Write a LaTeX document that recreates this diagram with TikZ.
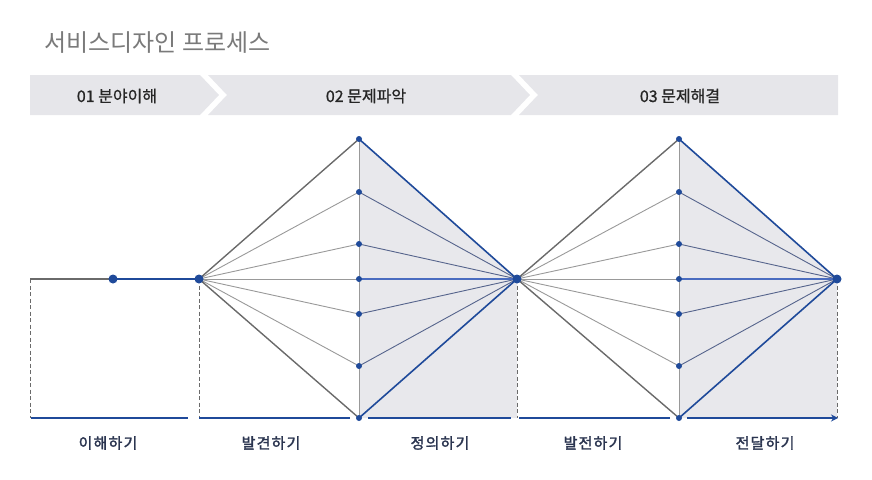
\documentclass[tikz,border=0pt]{standalone}
\usepackage{fontspec}
\setmainfont{Noto Sans CJK KR}
\newfontfamily\krb{Noto Sans CJK KR}[FakeBold=2,LetterSpace=8]
\newfontfamily\krh{Noto Sans CJK KR}[FakeBold=0.8]
\usetikzlibrary{arrows.meta}
\definecolor{pblue}{HTML}{1F4A9A}
\definecolor{lblue}{HTML}{4A6CC0}
\definecolor{fanblue}{HTML}{56648C}
\definecolor{band}{HTML}{E6E6EA}
\definecolor{shadefill}{HTML}{E8E8EC}
\definecolor{edgegray}{HTML}{6A6A6A}
\definecolor{fangray}{HTML}{999999}
\definecolor{titlegray}{HTML}{7A7A7A}
\definecolor{labelnavy}{HTML}{2B3550}
\tikzset{
  bigdot/.style={circle,fill=pblue,inner sep=0pt,minimum size=9pt},
  smalldot/.style={circle,fill=pblue,inner sep=0pt,minimum size=6pt},
  edgeline/.style={draw=edgegray,line width=1.4pt},
  blueedge/.style={draw=pblue,line width=1.6pt},
  fanleft/.style={draw=fangray,line width=0.9pt},
  fanright/.style={draw=fanblue,line width=0.9pt},
  midline/.style={draw=lblue,line width=1.2pt},
  vline/.style={draw=fangray,line width=1pt},
  dashv/.style={draw=edgegray,line width=0.8pt,dash pattern=on 4pt off 2.5pt},
  bar/.style={draw=pblue,line width=2.2pt},
  bandshape/.style={fill=band,draw=none},
  headtxt/.style={font=\krh\fontsize{16}{18}\selectfont,text=black!85,inner sep=0pt},
  steplabel/.style={font=\krb\fontsize{15}{17}\selectfont,text=labelnavy,inner sep=0pt},
}
\begin{document}
\begin{tikzpicture}[x=1pt,y=-1pt]
\useasboundingbox (0,0) rectangle (872,479);
% title
\node[font=\fontsize{24}{26}\selectfont,text=titlegray,anchor=west,inner sep=0pt] (title) at (44,43) {서비스디자인 프로세스};
% header bands
\path[bandshape] (30,75) -- (200,75) -- (219,95) -- (200,115) -- (30,115) -- cycle;
\path[bandshape] (208,75) -- (511,75) -- (530,95) -- (511,115) -- (208,115) -- (227,95) -- cycle;
\path[bandshape] (519,75) -- (838,75) -- (838,115) -- (519,115) -- (538,95) -- cycle;
\node[headtxt] (h1) at (117,96) {01 분야이해};
\node[headtxt] (h2) at (366,96) {02 문제파악};
\node[headtxt] (h3) at (680,96) {03 문제해결};
% coordinates
\coordinate (L0) at (30,279);
\coordinate (D0) at (113,279);
\coordinate (A) at (199,279);
\coordinate (R1) at (517,279);
\coordinate (R2) at (837,279);
\foreach \n/\y in {a/139,b/192,c/244,d/279,e/314,f/366,g/418}{
  \coordinate (p\n) at (359,\y);
  \coordinate (q\n) at (679,\y);
}
\coordinate (L0b) at (30,418);
\coordinate (Ab) at (199,418);
\coordinate (R1b) at (517,418);
\coordinate (R2b) at (837,418);
% shading
\fill[shadefill] (pa) -- (R1) -- (R1b) -- (pg) -- cycle;
\fill[shadefill] (qa) -- (R2) -- (R2b) -- (qg) -- cycle;
% dashed verticals
\draw[dashv] (L0) -- (L0b);
\draw[dashv] (A) -- (Ab);
\draw[dashv] (R1) -- (R1b);
\draw[dashv] (R2) -- (R2b);
% verticals
\draw[vline] (pa) -- (pg);
\draw[vline] (qa) -- (qg);
% fans
\foreach \n in {b,c,e,f}{
  \draw[fanleft] (A) -- (p\n);
  \draw[fanleft] (R1) -- (q\n);
  \draw[fanright] (p\n) -- (R1);
  \draw[fanright] (q\n) -- (R2);
}
\draw[fanleft] (A) -- (pd);
\draw[fanleft] (R1) -- (qd);
\draw[midline] (pd) -- (R1);
\draw[midline] (qd) -- (R2);
\draw[edgeline] (A) -- (pa);
\draw[edgeline] (A) -- (pg);
\draw[edgeline] (R1) -- (qa);
\draw[edgeline] (R1) -- (qg);
\draw[blueedge] (pa) -- (R1);
\draw[blueedge] (pg) -- (R1);
\draw[blueedge] (qa) -- (R2);
\draw[blueedge] (qg) -- (R2);
% axis start
\draw[draw=edgegray,line width=1.8pt] (L0) -- (D0);
\draw[draw=pblue,line width=2pt] (D0) -- (A);
% bottom bars
\coordinate (b1s) at (31,418); \coordinate (b1e) at (188,418);
\coordinate (b2s) at (199,418); \coordinate (b2e) at (350,418);
\coordinate (b3s) at (368,418); \coordinate (b3e) at (511,418);
\coordinate (b4s) at (519,418); \coordinate (b4e) at (670,418);
\coordinate (b5s) at (687,418); \coordinate (b5e) at (838,418);
\draw[bar] (b1s) -- (b1e);
\draw[bar] (b2s) -- (b2e);
\draw[bar] (b3s) -- (b3e);
\draw[bar] (b4s) -- (b4e);
\draw[bar,-{Stealth[length=7pt,width=7pt]}] (b5s) -- (b5e);
% dots
\node[bigdot] (nD0) at (D0) {};
\node[bigdot] (nA) at (A) {};
\node[bigdot] (nR1) at (R1) {};
\node[bigdot] (nR2) at (R2) {};
\foreach \n in {a,b,c,d,e,f,g}{
  \node[smalldot] (np\n) at (p\n) {};
  \node[smalldot] (nq\n) at (q\n) {};
}
% labels
\node[steplabel] (s1) at (108,443) {이해하기};
\node[steplabel] (s2) at (271,443) {발견하기};
\node[steplabel] (s3) at (440,443) {정의하기};
\node[steplabel] (s4) at (593,443) {발전하기};
\node[steplabel] (s5) at (765,443) {전달하기};
\end{tikzpicture}
\end{document}
